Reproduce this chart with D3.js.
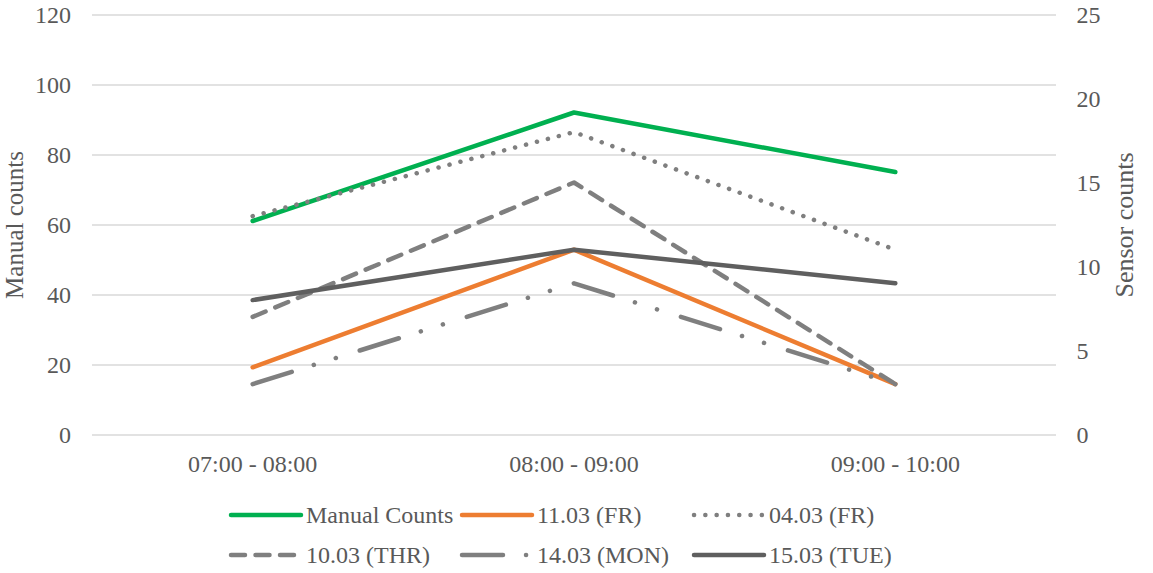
<!DOCTYPE html>
<html>
<head>
<meta charset="utf-8">
<script src="https://cdn.jsdelivr.net/npm/d3@7"></script>
<style>
  html, body { margin: 0; padding: 0; background: #fff; }
  svg { display: block; font-family: "Liberation Serif", "Times New Roman", serif; }
</style>
</head>
<body>
<svg id="chart" width="1153" height="573"></svg>
<script>
// Hourly time slots
const categories = ["07:00 - 08:00", "08:00 - 09:00", "09:00 - 10:00"];

// Manual counts (left axis)
const manualCounts = [61, 92, 75];

// Sensor counts per day (right axis)
const sensor1103 = [4, 11, 3];
const sensor0403 = [13, 18, 11];
const sensor1003 = [7, 15, 3];
const sensor1403 = [3, 9, 3];
const sensor1503 = [8, 11, 9];

const leftTicks = [0, 20, 40, 60, 80, 100, 120];
const rightTicks = [0, 5, 10, 15, 20, 25];

const series = [
  { name: "Manual Counts", values: manualCounts, axis: "left",  color: "#00b050", dash: null },
  { name: "11.03 (FR)",    values: sensor1103,   axis: "right", color: "#ed7d31", dash: null },
  { name: "04.03 (FR)",    values: sensor0403,   axis: "right", color: "#7f7f7f", dash: "0.1 11.2" },
  { name: "10.03 (THR)",   values: sensor1003,   axis: "right", color: "#7f7f7f", dash: "14 10.5" },
  { name: "14.03 (MON)",   values: sensor1403,   axis: "right", color: "#7f7f7f", dash: "41 23 0.1 23 0.1 25" },
  { name: "15.03 (TUE)",   values: sensor1503,   axis: "right", color: "#5f5f5f", dash: null }
];

const plot = { left: 92, right: 1056, top: 14.5, bottom: 434.5 };
const textColor = "#595959";
const serif = "Liberation Serif, Times New Roman, serif";
const fontSize = 24;

const svg = d3.select("#chart");

const x = d3.scaleBand().domain(categories).range([plot.left, plot.right]).padding(0);
const yLeft = d3.scaleLinear().domain([0, 120]).range([plot.bottom, plot.top]);
const yRight = d3.scaleLinear().domain([0, 25]).range([plot.bottom, plot.top]);

// Horizontal gridlines
svg.append("g")
  .attr("transform", `translate(${plot.left},0)`)
  .call(d3.axisLeft(yLeft).tickValues(leftTicks).tickSize(-(plot.right - plot.left)).tickFormat(""))
  .call(g => g.select(".domain").remove())
  .call(g => g.selectAll("line").attr("stroke", "#d9d9d9").attr("stroke-width", 1.5));

// Left axis labels
svg.append("g")
  .attr("transform", `translate(${plot.left},0)`)
  .call(d3.axisLeft(yLeft).tickValues(leftTicks).tickSize(0).tickPadding(21))
  .call(g => g.select(".domain").remove())
  .call(g => g.selectAll("text")
    .attr("fill", textColor).attr("font-size", fontSize).attr("font-family", serif));

// Right axis labels
svg.append("g")
  .attr("transform", `translate(${plot.right},0)`)
  .call(d3.axisRight(yRight).tickValues(rightTicks).tickSize(0).tickPadding(20.5))
  .call(g => g.select(".domain").remove())
  .call(g => g.selectAll("text")
    .attr("fill", textColor).attr("font-size", fontSize).attr("font-family", serif));

// Category axis labels
svg.append("g")
  .attr("transform", `translate(0,${plot.bottom})`)
  .call(d3.axisBottom(x).tickSize(0).tickPadding(20))
  .call(g => g.select(".domain").remove())
  .call(g => g.selectAll("text")
    .attr("fill", textColor).attr("font-size", fontSize).attr("font-family", serif));

// Axis titles
svg.append("text")
  .attr("transform", `translate(23,225) rotate(-90)`)
  .attr("text-anchor", "middle")
  .attr("fill", textColor).attr("font-size", 25)
  .text("Manual counts");

svg.append("text")
  .attr("transform", `translate(1133,225) rotate(-90)`)
  .attr("text-anchor", "middle")
  .attr("fill", textColor).attr("font-size", 26)
  .text("Sensor counts");

// Series lines
const cx = c => x(c) + x.bandwidth() / 2;
series.forEach(s => {
  const y = s.axis === "left" ? yLeft : yRight;
  const line = d3.line().x((d, i) => cx(categories[i])).y(d => y(d));
  svg.append("path")
    .datum(s.values)
    .attr("d", line)
    .attr("fill", "none")
    .attr("stroke", s.color)
    .attr("stroke-width", 4.5)
    .attr("stroke-linecap", "round")
    .attr("stroke-linejoin", "round")
    .attr("stroke-dasharray", s.dash);
});

// Legend: three columns, two rows
const legendCols = [229, 460, 692];
const legendRows = [515, 555];
const sampleLen = 72;
const legend = svg.append("g");
series.forEach((s, i) => {
  const lx = legendCols[i % 3];
  const ly = legendRows[Math.floor(i / 3)];
  const g = legend.append("g").attr("transform", `translate(${lx},${ly})`);
  g.append("line")
    .attr("x1", 2).attr("x2", sampleLen).attr("y1", 0).attr("y2", 0)
    .attr("stroke", s.color).attr("stroke-width", 4.5)
    .attr("stroke-linecap", "round")
    .attr("stroke-dasharray", s.dash);
  g.append("text")
    .attr("x", sampleLen + 5).attr("y", 0).attr("dy", "0.33em")
    .attr("fill", textColor).attr("font-size", fontSize)
    .text(s.name);
});
</script>
</body>
</html>
